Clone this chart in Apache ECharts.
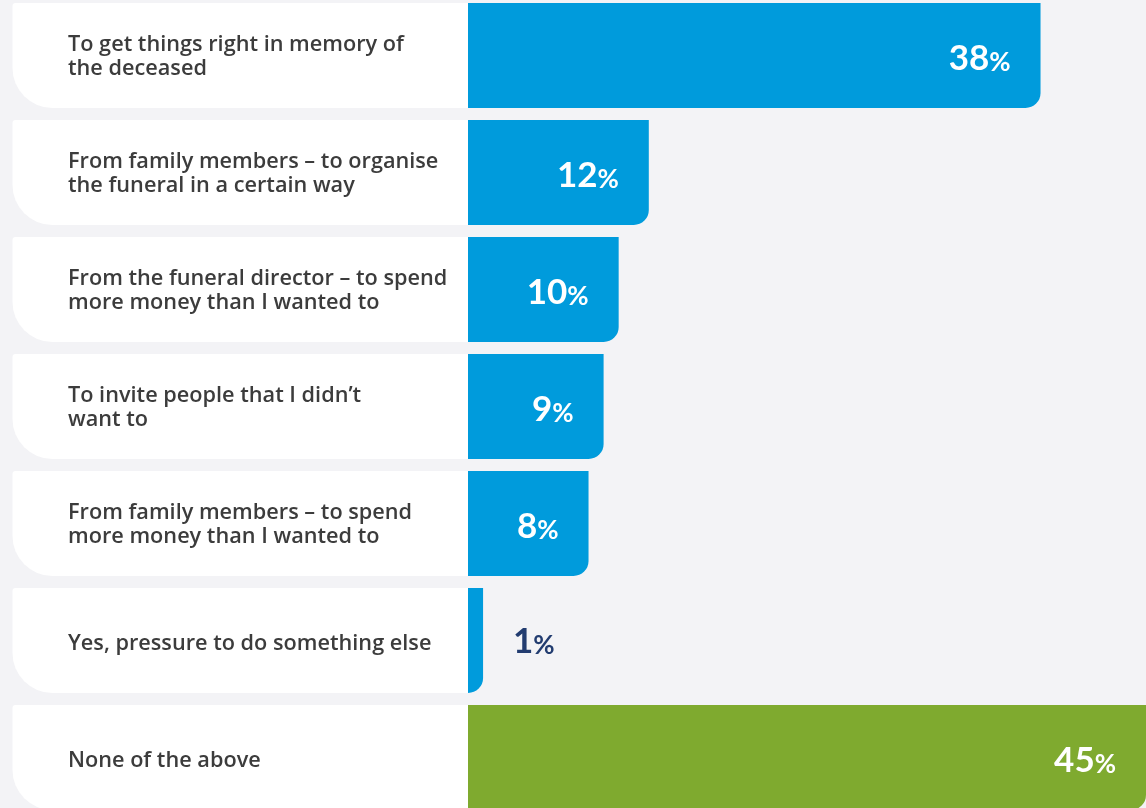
<!DOCTYPE html>
<html>
<head>
<meta charset="utf-8">
<script src="https://cdn.jsdelivr.net/npm/echarts@6/dist/echarts.min.js"></script>
<style>
html,body{margin:0;padding:0;background:#f3f3f6;}
#chart{width:1146px;height:808px;}
</style>
</head>
<body>
<div id="chart"></div>
<script>
const categories = [
  "To get things right in memory of\nthe deceased",
  "From family members – to organise\nthe funeral in a certain way",
  "From the funeral director – to spend\nmore money than I wanted to",
  "To invite people that I didn’t\nwant to",
  "From family members – to spend\nmore money than I wanted to",
  "Yes, pressure to do something else",
  "None of the above"
];
const values = [38, 12, 10, 9, 8, 1, 45];
const barColors = ["#009bdc", "#009bdc", "#009bdc", "#009bdc", "#009bdc", "#009bdc", "#7faa2f"];

// layout: value 0 sits at x=468px, 45 at right edge
const W = 1146, ZERO_PX = 468, MAXV = 45;
const k = (W - ZERO_PX) / MAXV;
const xMin = -ZERO_PX / k;
const boxVal = -(ZERO_PX - 12.5) / k;

const numRich = (c) => ({
  n: {fontFamily: 'Lato', fontWeight: 'bold', fontSize: 35, color: c, verticalAlign: 'bottom', lineHeight: 35},
  p: {fontFamily: 'Lato', fontWeight: 'bold', fontSize: 26, color: c, verticalAlign: 'bottom', lineHeight: 35}
});

const catFont = {fontFamily: 'Open Sans', fontWeight: 600, fontSize: 21.7, lineHeight: 26.5, color: '#3c3c3c'};

const chart = echarts.init(document.getElementById('chart'));
chart.setOption({
  backgroundColor: '#f3f3f6',
  animation: false,
  grid: {left: 0, right: 0, top: -3, bottom: -8, containLabel: false, outerBoundsMode: 'none'},
  xAxis: {type: 'value', min: xMin, max: MAXV, show: false},
  yAxis: {
    type: 'category', data: categories, inverse: true,
    axisLine: {show: false}, axisTick: {show: false}, splitLine: {show: false},
    axisLabel: {
      inside: true, margin: 68, align: 'left',
      fontFamily: 'Open Sans', fontWeight: 600, fontSize: 21.7, lineHeight: 26.5, color: '#3c3c3c',
      formatter: v => v.split('\n').map((s, i) => (i === 0 ? '{f|' : '{a|') + s + '}').join('\n'),
      rich: {
        f: Object.assign({padding: [6, 0, 0, 0]}, catFont),
        a: Object.assign({}, catFont)
      }
    },
    z: 10
  },
  series: [
    {
      type: 'bar', barWidth: 105, barGap: '-100%', silent: true,
      data: categories.map(() => boxVal),
      itemStyle: {color: '#ffffff', borderRadius: [3, 0, 0, 40]}
    },
    {
      type: 'bar', barWidth: 105, barGap: '-100%',
      data: values.map((v, i) => {
        const small = v < 3;
        return {
          value: v,
          itemStyle: {color: barColors[i]},
          label: small ? {position: 'right', distance: 30, padding: [2, 0, 0, 0], rich: numRich('#223c70')} : undefined
        };
      }),
      itemStyle: {borderRadius: [0, 0, 15, 0]},
      label: {
        show: true, position: 'insideRight', distance: 30,
        padding: [6, 0, 0, 0],
        formatter: p => '{n|' + p.value + '}{p|%}',
        rich: numRich('#ffffff')
      }
    }
  ]
});
</script>
</body>
</html>
